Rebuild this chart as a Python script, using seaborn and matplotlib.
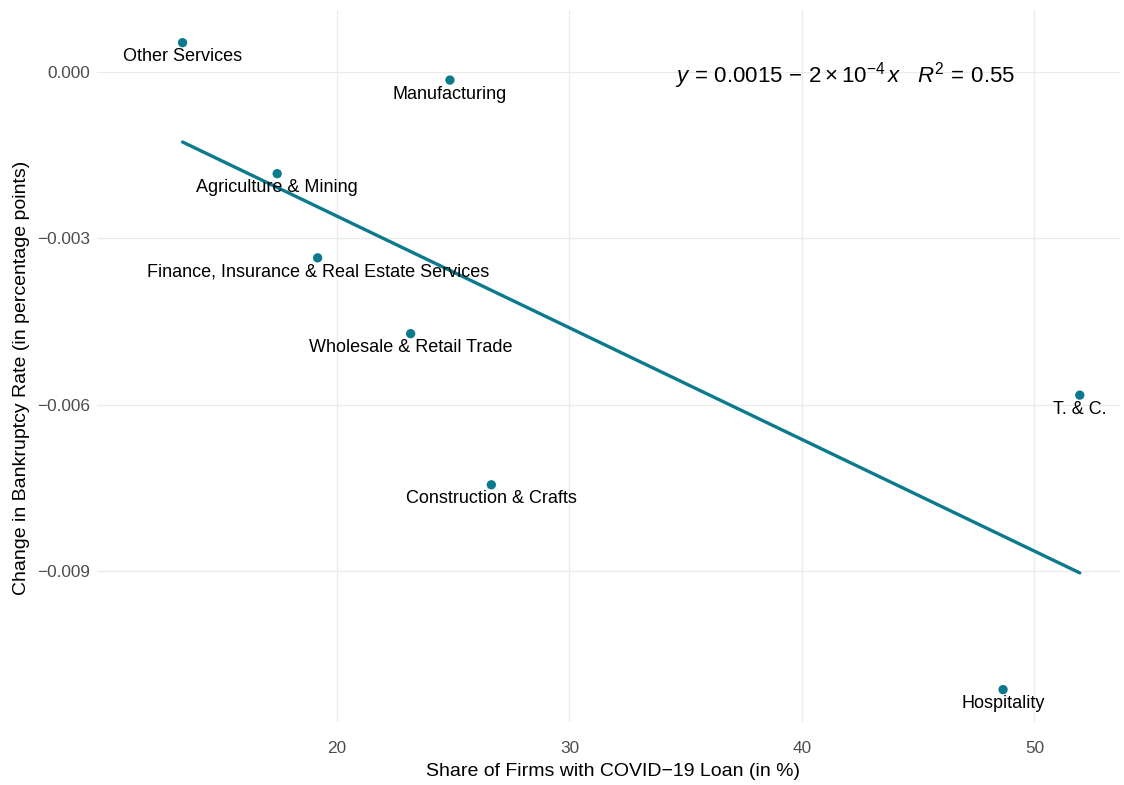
import matplotlib
matplotlib.use("Agg")
import matplotlib.pyplot as plt
import numpy as np
import pandas as pd
import seaborn as sns

# Sector-level data: loan uptake vs. change in bankruptcy rate
sectors = [
    "Other Services", "Manufacturing", "Agriculture & Mining",
    "Finance, Insurance & Real Estate Services", "Wholesale & Retail Trade",
    "Construction & Crafts", "T. & C.", "Hospitality",
]
loan_share = [13.36, 24.86, 17.43, 19.17, 23.17, 26.64, 51.95, 48.65]
bankruptcy_change = [0.000537, -0.000139, -0.00183, -0.00335, -0.00472, -0.00745, -0.00583, -0.01115]

x_ticks = [20, 30, 40, 50]
y_ticks = [0.000, -0.003, -0.006, -0.009]
y_tick_labels = ["0.000", "\u22120.003", "\u22120.006", "\u22120.009"]

df = pd.DataFrame({"sector": sectors, "loan": loan_share, "change": bankruptcy_change})

teal = "#0b7a8c"

sns.set_theme(style="whitegrid")
plt.rcParams["font.family"] = ["Liberation Sans", "DejaVu Sans"]
plt.rcParams["mathtext.fontset"] = "custom"
plt.rcParams["mathtext.rm"] = "Liberation Sans"
plt.rcParams["mathtext.it"] = "Liberation Sans:italic"
plt.rcParams["mathtext.sf"] = "Liberation Sans"

fig = plt.figure(figsize=(11.24, 7.85), dpi=100)
W, H = 1124, 785
left, right, top, bottom = 97, 1120, 10, 722
ax = fig.add_axes([left / W, 1 - bottom / H, (right - left) / W, (bottom - top) / H])

sns.regplot(data=df, x="loan", y="change", scatter=False, ci=None, ax=ax,
            line_kws={"color": teal, "linewidth": 2.4})
sns.scatterplot(data=df, x="loan", y="change", ax=ax, color=teal, s=45,
                edgecolor="none", zorder=3)

for name, xv, yv in zip(sectors, loan_share, bankruptcy_change):
    ax.annotate(name, (xv, yv), xytext=(0, -14), textcoords="offset pixels",
                ha="center", va="center", fontsize=13, color="black", zorder=4)

ax.set_xlim(9.68, 53.68)
ax.set_ylim(-0.011735, 0.001127)
ax.set_xticks(x_ticks)
ax.set_xticklabels([str(t) for t in x_ticks])
ax.set_yticks(y_ticks)
ax.set_yticklabels(y_tick_labels)

for s in ax.spines.values():
    s.set_visible(False)
ax.set_facecolor("white")
ax.grid(True, color="#ebebeb", linewidth=0.9)
ax.tick_params(axis="both", length=0, labelsize=12.4, labelcolor="#4d4d4d")
ax.tick_params(axis="x", pad=14)
ax.tick_params(axis="y", pad=5)

ax.set_xlabel("Share of Firms with COVID\u221219 Loan (in %)", fontsize=14, color="black")
ax.set_ylabel("Change in Bankruptcy Rate (in percentage points)", fontsize=14, color="black")
ax.xaxis.set_label_coords((613 - left) / (right - left), -(763 - bottom) / (bottom - top))
ax.yaxis.set_label_coords(-(97 - 30) / (right - left), (bottom - 378) / (bottom - top))

ax.text((1015 - left) / (right - left), (bottom - 76) / (bottom - top),
        r"$\mathit{y}\,=\,0.0015\,-\,2\times 10^{-4}\,\mathit{x}\quad \mathit{R}^{2}\,=\,0.55$",
        transform=ax.transAxes, ha="right", va="center", fontsize=16, color="black")

fig.savefig("out.png", dpi=100, facecolor="white")
